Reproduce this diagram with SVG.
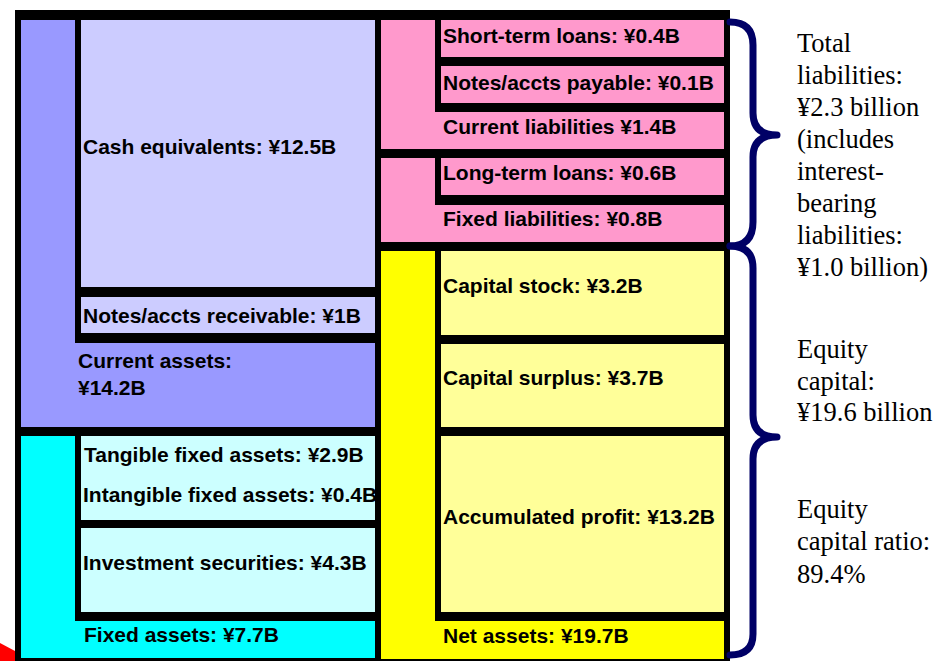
<svg xmlns="http://www.w3.org/2000/svg" width="935" height="661" viewBox="0 0 935 661">
<style>
.lb{font-family:"Liberation Sans",Arial,sans-serif;font-weight:bold;font-size:21px;fill:#000}
.rt{font-family:"Liberation Serif","Times New Roman",serif;font-size:26.5px;fill:#000}
.br{fill:none;stroke:#000066;stroke-width:7;stroke-linecap:round;stroke-linejoin:round}
</style>
<rect x="0" y="0" width="935" height="661" fill="#fff"/>
<polygon points="0,643 15,651 15,661 0,661" fill="#ff0000"/>
<rect id="frame" x="15" y="10" width="715" height="651" fill="#000"/>
<g id="current-assets">
<path d="M21,20 H75 V343 H375 V427 H21 Z" fill="#9999ff"/>
<text class="lb" x="78" y="368">Current assets:</text>
<text class="lb" x="78" y="395">¥14.2B</text>
</g>
<g id="cash">
<rect x="81" y="20" width="294" height="267" fill="#ccccff"/>
<text class="lb" x="83" y="154">Cash equivalents: ¥12.5B</text>
</g>
<g id="notes-receivable">
<rect x="81" y="297" width="294" height="36" fill="#ccccff"/>
<text class="lb" x="83" y="323">Notes/accts receivable: ¥1B</text>
</g>
<g id="fixed-assets">
<path d="M21,436 H75 V621 H375 V658 H21 Z" fill="#00ffff"/>
<text class="lb" x="84" y="642">Fixed assets: ¥7.7B</text>
</g>
<g id="tangible">
<rect x="81" y="436" width="294" height="84" fill="#ccffff"/>
<text class="lb" x="84" y="462">Tangible fixed assets: ¥2.9B</text>
<text class="lb" x="83" y="502">Intangible fixed assets: ¥0.4B</text>
</g>
<g id="investment">
<rect x="81" y="528" width="294" height="84" fill="#ccffff"/>
<text class="lb" x="83" y="570">Investment securities: ¥4.3B</text>
</g>
<g id="current-liabilities">
<path d="M381,20 H435 V112 H724 V149 H381 Z" fill="#ff99cc"/>
<text class="lb" x="443" y="134">Current liabilities ¥1.4B</text>
</g>
<g id="short-term">
<rect x="441" y="20" width="283" height="37" fill="#ff99cc"/>
<text class="lb" x="443" y="43">Short-term loans: ¥0.4B</text>
</g>
<g id="notes-payable">
<rect x="441" y="66" width="283" height="37" fill="#ff99cc"/>
<text class="lb" x="443" y="90">Notes/accts payable: ¥0.1B</text>
</g>
<g id="fixed-liabilities">
<path d="M381,158 H435 V205 H724 V242 H381 Z" fill="#ff99cc"/>
<text class="lb" x="443" y="226">Fixed liabilities: ¥0.8B</text>
</g>
<g id="long-term">
<rect x="441" y="158" width="283" height="37" fill="#ff99cc"/>
<text class="lb" x="443" y="180">Long-term loans: ¥0.6B</text>
</g>
<g id="net-assets">
<path d="M381,251 H435 V621 H724 V659 H381 Z" fill="#ffff00"/>
<text class="lb" x="443" y="643">Net assets: ¥19.7B</text>
</g>
<g id="capital-stock">
<rect x="441" y="251" width="283" height="84" fill="#ffff99"/>
<text class="lb" x="443" y="293">Capital stock: ¥3.2B</text>
</g>
<g id="capital-surplus">
<rect x="441" y="344" width="283" height="83" fill="#ffff99"/>
<text class="lb" x="443" y="385">Capital surplus: ¥3.7B</text>
</g>
<g id="accumulated-profit">
<rect x="441" y="436" width="283" height="176" fill="#ffff99"/>
<text class="lb" x="443" y="524">Accumulated profit: ¥13.2B</text>
</g>
<g id="connectors">
<path class="br" d="M730,22 Q753,22 753,45 V113 Q753,135 777,135 Q753,135 753,157 V222 Q753,246 730,246"/>
<path class="br" d="M730,246 Q753,246 753,268 V415 Q753,437 777,437 Q753,437 753,459 V634 Q753,655 730,655"/>
</g>
<g id="total-liabilities-note">
<text class="rt" x="797" y="52">Total</text>
<text class="rt" x="797" y="84">liabilities:</text>
<text class="rt" x="797" y="116">¥2.3 billion</text>
<text class="rt" x="797" y="148">(includes</text>
<text class="rt" x="797" y="180">interest-</text>
<text class="rt" x="797" y="212">bearing</text>
<text class="rt" x="797" y="244">liabilities:</text>
<text class="rt" x="797" y="276">¥1.0 billion)</text>
</g>
<g id="equity-note">
<text class="rt" x="797" y="358">Equity</text>
<text class="rt" x="797" y="390">capital:</text>
<text class="rt" x="797" y="421">¥19.6 billion</text>
</g>
<g id="ratio-note">
<text class="rt" x="797" y="518">Equity</text>
<text class="rt" x="797" y="550">capital ratio:</text>
<text class="rt" x="797" y="583">89.4%</text>
</g>
</svg>
